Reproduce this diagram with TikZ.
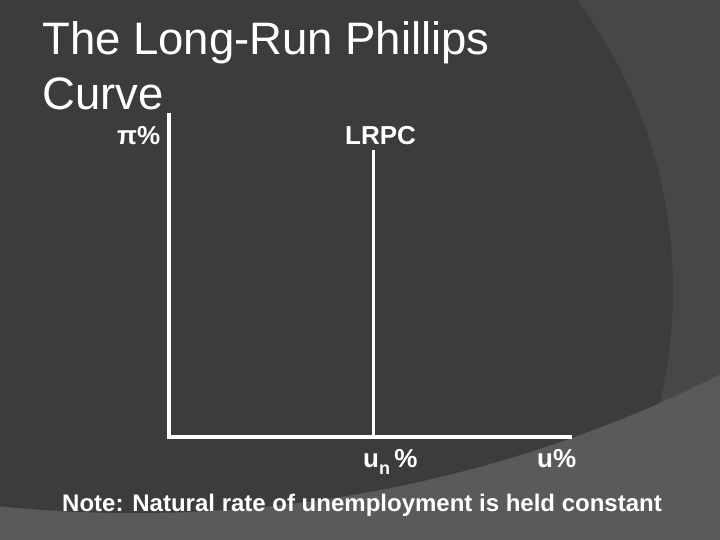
\documentclass[tikz,border=0pt]{standalone}
\usepackage{fontspec}
\setmainfont{Liberation Sans}
\usetikzlibrary{positioning}
\definecolor{lrpcBase}{HTML}{3C3C3C}
\definecolor{lrpcArc}{HTML}{474747}
\definecolor{lrpcFloor}{HTML}{5A5A5A}
\tikzset{
  every picture/.style={text=white},
  lrpc title/.style={font=\fontsize{45.5}{55}\selectfont, inner sep=0pt, anchor=base west},
  lrpc label/.style={font=\fontsize{26}{30}\selectfont\bfseries, inner sep=0pt, anchor=base west},
  lrpc note/.style={font=\fontsize{24}{28}\selectfont\bfseries, inner sep=0pt, anchor=base west},
  lrpc axis/.style={draw=white, line width=4pt, line cap=rect, line join=miter}
}
\begin{document}
\begin{tikzpicture}[x=1pt,y=1pt]
  \useasboundingbox (0,0) rectangle (720,540);
  \fill[lrpcFloor] (0,0) rectangle (720,540);
  \begin{scope}
    \clip (134,1333) circle (1306);
    \fill[lrpcArc] (0,0) rectangle (720,540);
    \fill[lrpcBase] (187,250) circle (486);
  \end{scope}
  \node[lrpc title] (title1) at (42,485) {The Long-Run Phillips};
  \node[lrpc title] (title2) at (42,430) {Curve};
  \coordinate (ytop) at (169,425);
  \coordinate (origin) at (169,102.5);
  \coordinate (xend) at (570,102.5);
  \coordinate (lrtop) at (373,390);
  \coordinate (lrfoot) at (373,102.5);
  \draw[lrpc axis] (ytop) -- (origin) -- (xend);
  \draw[draw=white, line width=3pt] (lrtop) -- (lrfoot);
  \node[lrpc label] (pi) at (117,395) {π\%};
  \node[lrpc label] (lrpc) at (345,395) {LRPC};
  \node[lrpc label] (un) at (363,72) {u\raisebox{-7pt}{\fontsize{18}{20}\selectfont n}\,\%};
  \node[lrpc label] (u) at (537,72) {u\%};
  \node[lrpc note] (note) at (62,28) {Note: Natural rate of unemployment is held constant};
\end{tikzpicture}
\end{document}
